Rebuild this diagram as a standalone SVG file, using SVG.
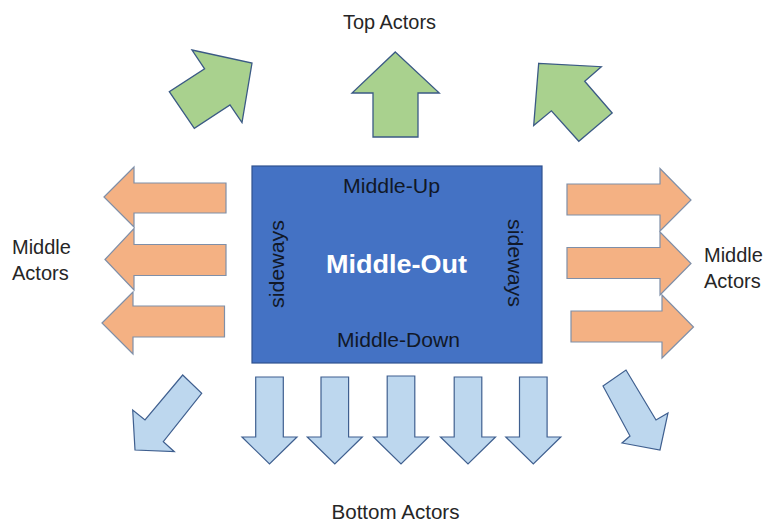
<svg xmlns="http://www.w3.org/2000/svg" width="768" height="522" viewBox="0 0 768 522">
<style>
.lbl{font-family:"Liberation Sans",Arial,sans-serif;font-size:20px;fill:#262626}
.in{font-family:"Liberation Sans",Arial,sans-serif;font-size:20px;fill:#111827}
.big{font-family:"Liberation Sans",Arial,sans-serif;font-size:25px;font-weight:bold;fill:#ffffff}
.green{fill:#A9D18E;stroke:#3B5A85;stroke-width:1.3;stroke-linejoin:miter}
.orange{fill:#F4B183;stroke:#7F8FA8;stroke-width:1.2}
.lblue{fill:#BDD7EE;stroke:#3F5F8F;stroke-width:1.2}
</style>
<rect width="768" height="522" fill="#ffffff"/>
<g id="top-actors">
<text class="lbl" x="389.5" y="29" text-anchor="middle" textLength="93" lengthAdjust="spacingAndGlyphs">Top Actors</text>
<polygon id="up-left" class="green" points="192,50 252,63 242,122.5 230,105 194.3,128.3 169.3,91.7 204.6,68.8"/>
<polygon id="up" class="green" points="395.3,52 439.3,93 418,93 418,137 373,137 373,93 352,93"/>
<polygon id="up-right" class="green" points="538.7,63.3 601.3,66.7 584.7,81.3 612.2,113 578.8,141.3 551.4,110.8 533.7,125.4"/>
</g>
<g id="middle-out">
<rect x="252" y="166" width="290" height="197" fill="#4472C4" stroke="#2F528F" stroke-width="1.2"/>
<text class="in" x="391.5" y="193" text-anchor="middle" textLength="97" lengthAdjust="spacingAndGlyphs">Middle-Up</text>
<text class="in" x="398.5" y="346.5" text-anchor="middle" textLength="123" lengthAdjust="spacingAndGlyphs">Middle-Down</text>
<text class="big" x="396.5" y="273" text-anchor="middle" textLength="141" lengthAdjust="spacingAndGlyphs">Middle-Out</text>
<text class="in" transform="translate(284,264) rotate(-90)" text-anchor="middle" textLength="88" lengthAdjust="spacingAndGlyphs">sideways</text>
<text class="in" transform="translate(507.5,263) rotate(90)" text-anchor="middle" textLength="88" lengthAdjust="spacingAndGlyphs">sideways</text>
</g>
<g id="left-actors">
<polygon class="orange" points="104,197 134,167 134,183 226,183 226,213 134,213 134,227"/>
<polygon class="orange" points="105,259.5 134,228.5 134,244.5 226,244.5 226,275.5 134,275.5 134,290"/>
<polygon class="orange" points="102,323 133,292 133,306 224.5,306 224.5,337 133,337 133,354"/>
<text class="lbl" x="12" y="254">Middle</text>
<text class="lbl" x="12" y="280">Actors</text>
</g>
<g id="right-actors">
<polygon class="orange" points="567,184 660,184 660,168.5 691,200 660,231 660,215 567,215"/>
<polygon class="orange" points="567,247.5 660,247.5 660,232 691,263.5 660,295 660,278.5 567,278.5"/>
<polygon class="orange" points="571,311 662,311 662,295 693.5,327 662,358 662,342 571,342"/>
<text class="lbl" x="704" y="262">Middle</text>
<text class="lbl" x="704" y="288">Actors</text>
</g>
<g id="bottom-actors">
<polygon class="lblue" points="182.7,375 201.7,393.3 163.3,441.7 174.3,451.7 135,450 132.7,410 145,420"/>
<polygon class="lblue" points="255.7,377 283.3,377 283.3,437 297,437 269.5,464 242,437 255.7,437"/>
<polygon class="lblue" points="321,377 348.6,377 348.6,437 362.3,437 334.8,464 307.3,437 321,437"/>
<polygon class="lblue" points="387.2,376 414.8,376 414.8,437 428.5,437 401,464 373.5,437 387.2,437"/>
<polygon class="lblue" points="454.2,377 481.8,377 481.8,437 495.5,437 468,464 440.5,437 454.2,437"/>
<polygon class="lblue" points="519.5,377 547.1,377 547.1,437 560.8,437 533.3,464 505.8,437 519.5,437"/>
<polygon class="lblue" points="603,386 626,370 656,420 668,413 660,450 622,443 630,436"/>
<text class="lbl" x="395.5" y="519" text-anchor="middle" textLength="128" lengthAdjust="spacingAndGlyphs">Bottom Actors</text>
</g>
<g id="connectors"/>
</svg>
